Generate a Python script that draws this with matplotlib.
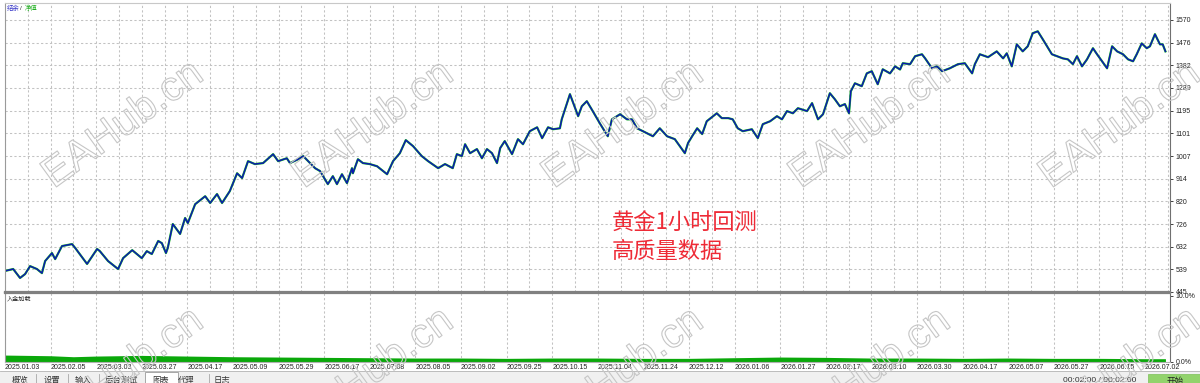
import matplotlib
matplotlib.use("Agg")
import matplotlib.pyplot as plt
import matplotlib.patheffects as pe
from matplotlib.lines import Line2D
from matplotlib.patches import Rectangle

# ---------------- data ----------------
# x position is measured in "date label" units: label k sits at x = k
date_labels = ["2025.01.03", "2025.02.05", "2025.03.03", "2025.03.27", "2025.04.17",
               "2025.05.09", "2025.05.29", "2025.06.17", "2025.07.08", "2025.08.05",
               "2025.09.02", "2025.09.25", "2025.10.15", "2025.11.04", "2025.11.24",
               "2025.12.12", "2026.01.06", "2026.01.27", "2026.02.17", "2026.03.10",
               "2026.03.30", "2026.04.17", "2026.05.07", "2026.05.27", "2026.06.15",
               "2026.07.02"]

y_ticks = [445, 539, 632, 726, 820, 914, 1007, 1101, 1195, 1289, 1382, 1476, 1570]
y_labels = ["445", "539", "632", "726", "820", "914", "1007", "1101", "1195",
            "1289", "1382", "1476", "1570"]

balance_x = [0.00, 0.18, 0.33, 0.44, 0.55, 0.70, 0.81, 0.88, 1.03, 1.10, 1.25, 1.47, 1.54,
             1.80, 2.02, 2.08, 2.26, 2.48, 2.59, 2.79, 3.00, 3.11, 3.22, 3.36, 3.44, 3.53,
             3.57, 3.68, 3.84, 3.95, 4.01, 4.17, 4.39, 4.50, 4.65, 4.76, 4.93, 5.09, 5.20,
             5.33, 5.48, 5.66, 5.88, 5.99, 6.18, 6.25, 6.43, 6.54, 6.80, 6.91, 7.08, 7.19,
             7.28, 7.39, 7.50, 7.61, 7.63, 7.74, 7.85, 8.00, 8.16, 8.38, 8.51, 8.66, 8.79,
             8.95, 9.14, 9.28, 9.50, 9.65, 9.82, 9.91, 10.02, 10.09, 10.20, 10.35, 10.46,
             10.57, 10.68, 10.79, 10.86, 10.96, 11.12, 11.25, 11.36, 11.51, 11.67, 11.78,
             11.91, 12.02, 12.17, 12.21, 12.39, 12.57, 12.65, 12.76, 12.89, 13.05, 13.22,
             13.31, 13.49, 13.64, 13.75, 13.86, 13.99, 14.21, 14.36, 14.52, 14.69, 14.80,
             14.91, 14.98, 15.07, 15.18, 15.29, 15.39, 15.61, 15.72, 15.86, 15.96, 16.07,
             16.18, 16.38, 16.51, 16.62, 16.78, 16.93, 17.04, 17.15, 17.28, 17.39, 17.59,
             17.70, 17.83, 17.94, 18.09, 18.20, 18.31, 18.42, 18.51, 18.55, 18.64, 18.79,
             18.90, 19.01, 19.14, 19.25, 19.41, 19.52, 19.63, 19.69, 19.85, 19.96, 20.11,
             20.18, 20.33, 20.44, 20.55, 20.72, 20.90, 21.05, 21.21, 21.27, 21.38, 21.56,
             21.75, 21.89, 21.97, 22.08, 22.19, 22.32, 22.43, 22.54, 22.65, 22.76, 22.96,
             23.07, 23.20, 23.31, 23.42, 23.51, 23.62, 23.73, 23.86, 23.95, 24.06, 24.17,
             24.28, 24.39, 24.52, 24.63, 24.74, 24.82, 24.93, 25.04, 25.11, 25.22, 25.33,
             25.39, 25.45]
balance = [532, 540, 503, 519, 552, 540, 523, 573, 606, 581, 635, 643, 627,
           561, 623, 614, 573, 540, 585, 618, 585, 614, 602, 656, 647, 606,
           627, 726, 685, 751, 730, 808, 841, 813, 850, 813, 862, 936, 916,
           986, 974, 978, 1015, 986, 998, 978, 994, 1007, 957, 945, 891, 924,
           891, 932, 895, 957, 936, 994, 978, 974, 965, 932, 986, 1019, 1073,
           1048, 1007, 986, 957, 974, 957, 1015, 1007, 1056, 1019, 1036, 998,
           1036, 1019, 978, 1040, 1069, 1015, 1077, 1056, 1110, 1126, 1081,
           1126, 1118, 1122, 1159, 1263, 1172, 1213, 1234, 1193, 1141, 1089,
           1159, 1180, 1159, 1159, 1122, 1110, 1089, 1122, 1089, 1077, 1048,
           1019, 1061, 1089, 1122, 1098, 1151, 1184, 1164, 1164, 1159, 1122,
           1110, 1118, 1081, 1139, 1151, 1172, 1159, 1193, 1184, 1205, 1193,
           1226, 1159, 1180, 1267, 1242, 1213, 1222, 1184, 1275, 1308, 1296,
           1349, 1358, 1304, 1366, 1349, 1378, 1365, 1391, 1387, 1420, 1428,
           1411, 1370, 1378, 1358, 1370, 1387, 1391, 1349, 1387, 1428, 1416,
           1440, 1411, 1432, 1378, 1469, 1440, 1461, 1515, 1523, 1490, 1428,
           1420, 1411, 1407, 1387, 1420, 1378, 1407, 1453, 1428, 1399, 1370,
           1461, 1440, 1428, 1407, 1399, 1428, 1473, 1453, 1461, 1511, 1469,
           1469, 1440]

# deposit load (%), bottom panel
load_x = [0, 0.5, 1, 1.5, 2, 3, 4, 5, 6, 7, 8, 9, 10, 11, 12, 13, 14, 15, 16, 17, 18,
          19, 20, 21, 22, 23, 24, 25, 25.45]
load = [1.05, 1.0, 0.95, 0.8, 0.9, 1.0, 0.9, 0.8, 0.75, 0.7, 0.65, 0.6, 0.6, 0.55, 0.6,
        0.6, 0.55, 0.55, 0.65, 0.75, 0.7, 0.6, 0.6, 0.55, 0.6, 0.55, 0.55, 0.5, 0.5]

# ---------------- layout ----------------
plt.rcParams["font.family"] = ["Liberation Sans", "Noto Sans CJK SC", "DejaVu Sans"]
plt.rcParams["lines.scale_dashes"] = False
W, H = 1200, 383
fig = plt.figure(figsize=(12, 3.83), dpi=100)


def box(x0, y0, x1, y1):
    return [x0 / W, 1 - y1 / H, (x1 - x0) / W, (y1 - y0) / H]


grid_kw = dict(color="#c2c2c2", linestyle=(0, (1.6, 1.6)), linewidth=0.75)

# main chart: balance / equity
ax = fig.add_axes(box(5, 3, 1170, 292))
ax.plot(balance_x, balance, color="#1ec81e", lw=1.6, zorder=3)
ax.plot(balance_x, balance, color="#0d18b0", lw=1.1, zorder=4)
ax.set_xlim(0, 25.55)
ax.set_ylim(445, 1640)
ax.set_xticks([k * 0.5 for k in range(52)])
ax.tick_params(axis="x", length=0, labelbottom=False)
ax.set_yticks(y_ticks)
ax.set_yticklabels(y_labels)
ax.yaxis.tick_right()
ax.tick_params(axis="y", length=2, width=0.6, pad=2, labelsize=5, colors="#222222")
ax.grid(True, **grid_kw)
ax.set_axisbelow(True)
ax.spines["left"].set_color("#9a9a9a")
ax.spines["top"].set_color("#c8c8c8")
ax.spines["right"].set_color("#707070")
ax.spines["bottom"].set_color("#808080")
ax.spines["bottom"].set_linewidth(1.6)
for s in ax.spines.values():
    s.set_zorder(6)

# bottom panel: deposit load
axl = fig.add_axes(box(5, 293, 1170, 362))
axl.fill_between(load_x, 0, load, color="#0aa80a", lw=0)
axl.set_xlim(0, 25.55)
axl.set_ylim(0, 10.45)
axl.set_yticks([0, 10])
axl.set_yticklabels(["0.0%", "10.0%"])
axl.yaxis.tick_right()
axl.tick_params(axis="y", length=2, width=0.6, pad=2, labelsize=5, colors="#222222")
axl.set_xticks(range(len(date_labels)))
axl.set_xticklabels(date_labels, ha="left")
axl.tick_params(axis="x", length=0, pad=1.5, labelsize=5, colors="#222222")
axl.grid(True, axis="x", **grid_kw)
axl.set_axisbelow(True)
axl.spines["left"].set_color("#9a9a9a")
axl.spines["right"].set_color("#707070")
axl.spines["top"].set_color("#808080")
axl.spines["top"].set_linewidth(1.6)
axl.spines["bottom"].set_color("#b0b0b0")

# panel captions
fig.text(7 / W, 1 - 8 / H, "结余", fontsize=4.6, color="#3636c8", va="center")
fig.text(20 / W, 1 - 8 / H, "/", fontsize=4.6, color="#333333", va="center")
fig.text(25 / W, 1 - 8 / H, "净值", fontsize=4.6, color="#22b022", va="center")
fig.text(7 / W, 1 - 298.5 / H, "入金加载", fontsize=4.4, color="#222222", va="center")

# red note
fig.text(612 / W, 1 - 223 / H, "黄金1小时回测", fontsize=16, color="#ee2a36",
         va="center", family=["Noto Sans CJK SC"])
fig.text(612 / W, 1 - 252 / H, "高质量数据", fontsize=16, color="#ee2a36",
         va="center", family=["Noto Sans CJK SC"])

# tab bar at the bottom
fig.add_artist(Rectangle((0, 0), 1, 12 / H, transform=fig.transFigure,
                         facecolor="#f0f0f0", edgecolor="none", zorder=1))
fig.add_artist(Line2D([0, 1], [12 / H, 12 / H], transform=fig.transFigure,
                      color="#b4b4b4", lw=0.6))
fig.add_artist(Rectangle((145 / W, 0), 33 / W, 11 / H, transform=fig.transFigure,
                         facecolor="white", edgecolor="#9a9a9a", lw=0.6, zorder=2))
tabs = ["概览", "设置", "输入", "后台测试", "图表", "代理", "日志"]
tab_x = [20, 52, 83, 121, 161, 186, 222]
for t, x in zip(tabs, tab_x):
    fig.text(x / W, 1 - 381 / H, t, fontsize=6, ha="center", va="center",
             color="#333333", zorder=3)
for x in [36, 68, 99, 209]:
    fig.add_artist(Line2D([x / W, x / W], [0, 9 / H], transform=fig.transFigure,
                          color="#a8a8a8", lw=0.6))
fig.text(1100 / W, 1 - 381 / H, "00:02:00 / 00:02:00", fontsize=6, ha="center",
         va="center", color="#333333", zorder=3)
fig.add_artist(Rectangle((1148 / W, 0), 52 / W, 9 / H, transform=fig.transFigure,
                         facecolor="#92d36c", edgecolor="#7cbf58", lw=0.5, zorder=2))
fig.text(1175 / W, 1 - 381 / H, "开始", fontsize=6.2, ha="center", va="center",
         color="#222222", zorder=3)

# watermark
wm_x = [123, 373, 623, 870, 1120]
for row_y in [125, 372]:
    for x in wm_x:
        fig.text(x / W, 1 - row_y / H, "EAHub.cn", fontsize=30, rotation=36,
                 ha="center", va="center", color=(1, 1, 1, 0), zorder=20,
                 path_effects=[pe.Stroke(linewidth=0.8, foreground="#c6c6c6")])

fig.savefig("out.png", dpi=100)
